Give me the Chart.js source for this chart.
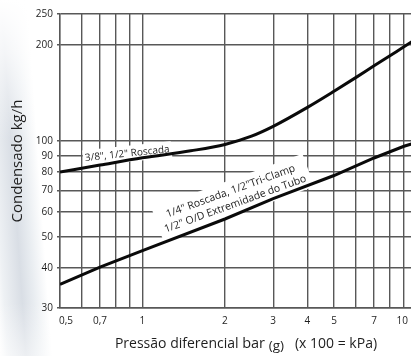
<!DOCTYPE html>
<html>
<head>
<meta charset="utf-8">
<script src="https://cdn.jsdelivr.net/npm/chart.js@4.4.1/dist/chart.umd.min.js"></script>
<style>
  html, body { margin: 0; padding: 0; }
  body {
    width: 411px; height: 356px; overflow: hidden;
    background:
      linear-gradient(to bottom, #fff 0%, rgba(255,255,255,0.7) 15%, rgba(255,255,255,0) 40%, rgba(255,255,255,0) 85%, rgba(255,255,255,0.5) 100%),
      linear-gradient(86deg, #fff 0px, #eef1f4 8px, #d9dee5 26px, #e9edf1 38px, #fff 52px, #fff 100%);
  }
  canvas { display: block; }
</style>
</head>
<body>
<canvas id="condChart" width="411" height="356"></canvas>
<script>
// --- DATA ---
const xGridValues = [0.5, 0.6, 0.7, 0.8, 0.9, 1, 2, 3, 4, 5, 6, 7, 8, 9];
const xTickValues = [0.5, 0.7, 1, 2, 3, 4, 5, 7, 10];
const xTickLabels = ['0,5', '0,7', '1', '2', '3', '4', '5', '7', '10'];
const yTickValues = [30, 40, 50, 60, 70, 80, 90, 100, 200, 250];
const yTickLabels = ['30', '40', '50', '60', '70', '80', '90', '100', '200', '250'];

// 3/8", 1/2" threaded
const pressureA = [0.5, 0.7, 1, 1.5, 2, 2.5, 3, 4, 5, 6, 7, 8, 9, 10];
const condensateA = [80, 84.1, 88.6, 93.2, 97.6, 103.6, 111.2, 127.5, 143.2, 158, 172, 185, 197.4, 209];

// 1/4" threaded, 1/2" Tri-Clamp, 1/2" O/D tube end
const pressureB = [0.5, 0.7, 1, 2, 3, 5, 7, 9, 10];
const condensateB = [35.6, 40.3, 45.4, 57, 66, 78, 88.5, 96.3, 99];

const labelA = ['3/8", 1/2" Roscada'];
const labelB = ['1/4" Roscada, 1/2"Tri-Clamp', '1/2" O/D Extremidade do Tubo'];

const FONT = "'Open Sans', 'Noto Sans', sans-serif";
const GRID = '#585858';
const INK = '#1e1e1e';

// curve captions sit on a white patch that hides the grid behind them
const curveCaptions = [
  { lines: labelA, at: [0.88, 91.2], angle: -6, size: 10, lineHeight: 12, padX: 2, padY: 2 },
  { lines: labelB, at: [2.14, 66.5], angle: -20, size: 10.5, lineHeight: 13.5, padX: 5, padY: 4 }
];

const captionPlugin = {
  id: 'captions',
  beforeDatasetsDraw(chart) {
    const { ctx, scales: { x, y } } = chart;
    curveCaptions.forEach(c => {
      ctx.save();
      ctx.translate(x.getPixelForValue(c.at[0]), y.getPixelForValue(c.at[1]));
      ctx.rotate(c.angle * Math.PI / 180);
      ctx.font = c.size + 'px ' + FONT;
      const w = Math.max(...c.lines.map(t => ctx.measureText(t).width));
      const h = c.lines.length * c.lineHeight;
      ctx.fillStyle = '#fff';
      ctx.fillRect(-w / 2 - c.padX, -h / 2 - c.padY, w + 2 * c.padX, h + 2 * c.padY);
      ctx.fillStyle = INK;
      ctx.textAlign = 'center';
      ctx.textBaseline = 'middle';
      c.lines.forEach((t, i) => ctx.fillText(t, 0, -h / 2 + c.lineHeight * (i + 0.5)));
      ctx.restore();
    });
  }
};

// x tick labels (kept inside the canvas) and the x title
const xAxisTextPlugin = {
  id: 'xAxisText',
  afterDraw(chart) {
    const { ctx, chartArea, scales: { x } } = chart;
    ctx.save();
    ctx.fillStyle = INK;
    ctx.textBaseline = 'middle';
    ctx.textAlign = 'left';
    ctx.font = '10px ' + FONT;
    xTickValues.forEach((v, i) => {
      const t = xTickLabels[i];
      const w = ctx.measureText(t).width;
      let left = x.getPixelForValue(v) - w / 2;
      left = Math.max(chartArea.left - 1, Math.min(left, chart.width - 3 - w));
      ctx.fillText(t, left, chartArea.bottom + 13);
    });

    const parts = [
      { t: 'Pressão diferencial ', size: 14, dy: 0 },
      { t: 'bar ', size: 14.5, dy: 0 },
      { t: '(g)', size: 13.5, dy: 2 },
      { t: '   (x 100 = kPa)', size: 14, dy: 0 }
    ];
    ctx.textBaseline = 'alphabetic';
    let total = 0;
    parts.forEach(p => { ctx.font = p.size + 'px ' + FONT; p.w = ctx.measureText(p.t).width; total += p.w; });
    let cx = 246 - total / 2;
    parts.forEach(p => {
      ctx.font = p.size + 'px ' + FONT;
      ctx.fillText(p.t, cx, chartArea.bottom + 40 + p.dy);
      cx += p.w;
    });
    ctx.restore();
  }
};

const ctx = document.getElementById('condChart').getContext('2d');
new Chart(ctx, {
  type: 'line',
  data: {
    datasets: [{
      data: pressureA.map((p, i) => ({ x: p, y: condensateA[i] })),
      borderColor: '#0a0a0a',
      borderWidth: 3,
      pointRadius: 0,
      cubicInterpolationMode: 'monotone'
    }, {
      data: pressureB.map((p, i) => ({ x: p, y: condensateB[i] })),
      borderColor: '#0a0a0a',
      borderWidth: 3,
      pointRadius: 0,
      tension: 0
    }]
  },
  options: {
    responsive: false,
    animation: false,
    layout: { padding: { top: 14, right: 0, bottom: 0, left: 0 } },
    plugins: { legend: { display: false }, tooltip: { enabled: false } },
    scales: {
      x: {
        type: 'logarithmic',
        min: 0.5,
        max: 9.55,
        afterBuildTicks: axis => { axis.ticks = xGridValues.map(v => ({ value: v })); },
        afterFit: axis => { axis.height = 48; },
        ticks: { display: false },
        grid: { color: GRID, lineWidth: 1.4, drawTicks: false },
        border: { color: GRID, width: 1.4 }
      },
      y: {
        type: 'logarithmic',
        min: 30,
        max: 250,
        afterBuildTicks: axis => { axis.ticks = yTickValues.map(v => ({ value: v })); },
        afterFit: axis => { axis.width = 60; },
        ticks: {
          autoSkip: false,
          padding: 4,
          color: INK,
          font: { family: FONT, size: 10 },
          callback: (v, i) => yTickLabels[i]
        },
        grid: { color: GRID, lineWidth: 1.4, tickLength: 3 },
        border: { color: GRID, width: 1.4 },
        title: {
          display: true,
          text: 'Condensado kg/h',
          color: INK,
          font: { family: FONT, size: 15 },
          padding: { top: 9, bottom: 0 }
        }
      }
    }
  },
  plugins: [captionPlugin, xAxisTextPlugin]
});
</script>
</body>
</html>
